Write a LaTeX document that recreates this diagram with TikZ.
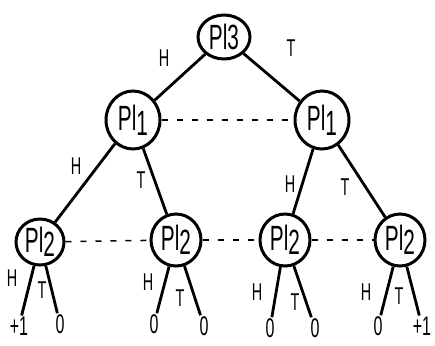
\documentclass[tikz,border=0pt]{standalone}
\usepackage{fontspec}
\setmainfont{Liberation Sans}
\usetikzlibrary{shapes.geometric}
\newcommand{\plname}[2]{\scalebox{0.8}[1.35]{Pl\raisebox{#2}{#1}}}
\newcommand{\tallt}[1]{\scalebox{0.8}[1.35]{#1}}
\begin{document}
\begin{tikzpicture}[x=1pt,y=-1pt,
  pl/.style={draw,ellipse,line width=3pt,inner sep=0pt,font=\fontsize{26}{30}\selectfont},
  leaf/.style={inner sep=1pt,font=\fontsize{20}{24}\selectfont},
  edge/.style={line width=2.8pt},
  lab/.style={font=\fontsize{18}{24}\selectfont},
  info/.style={line width=1.5pt,dash pattern=on 6pt off 9pt}]
\useasboundingbox (0,0) rectangle (435,345);
\node[pl,minimum width=52,minimum height=44] (r) at (224,37) {\plname{3}{0pt}};
\node[pl,minimum width=54,minimum height=58] (a) at (133,120) {\plname{1}{-4pt}};
\node[pl,minimum width=54,minimum height=58] (b) at (322,120) {\plname{1}{-4pt}};
\node[pl,minimum width=48,minimum height=46] (c1) at (40,242) {\plname{2}{-3pt}};
\node[pl,minimum width=50,minimum height=52] (c2) at (176,240) {\plname{2}{-3pt}};
\node[pl,minimum width=50,minimum height=52] (c3) at (285,240) {\plname{2}{-3pt}};
\node[pl,minimum width=50,minimum height=52] (c4) at (400,240) {\plname{2}{-3pt}};
\node[leaf] (l1) at (19,326) {\tallt{+1}};
\node[leaf] (l2) at (60,324) {\tallt{0}};
\node[leaf] (l3) at (154,324) {\tallt{0}};
\node[leaf] (l4) at (204,326) {\tallt{0}};
\node[leaf] (l5) at (270,328) {\tallt{0}};
\node[leaf] (l6) at (315,328) {\tallt{0}};
\node[leaf] (l7) at (378,326) {\tallt{0}};
\node[leaf] (l8) at (422,326) {\tallt{+1}};
\draw[edge] (r) -- (a);
\draw[edge] (r) -- (b);
\draw[edge] (a) -- (c1);
\draw[edge] (a) -- (c2);
\draw[edge] (b) -- (c3);
\draw[edge] (b) -- (c4);
\draw[edge] (c1) -- (l1);
\draw[edge] (c1) -- (l2);
\draw[edge] (c2) -- (l3);
\draw[edge] (c2) -- (l4);
\draw[edge] (c3) -- (l5);
\draw[edge] (c3) -- (l6);
\draw[edge] (c4) -- (l7);
\draw[edge] (c4) -- (l8);
\draw[info] (a) -- (b);
\draw[info] (c1) -- (c2);
\draw[info] (c2) -- (c3);
\draw[info] (c3) -- (c4);
\node[lab] (h0) at (164,58) {\tallt{H}};
\node[lab] (t0) at (291,48) {\tallt{T}};
\node[lab] (h1) at (76,166) {\tallt{H}};
\node[lab] (t1) at (141,180) {\tallt{T}};
\node[lab] (h2) at (290,184) {\tallt{H}};
\node[lab] (t2) at (345,187) {\tallt{T}};
\node[lab] (h3) at (12,278) {\tallt{H}};
\node[lab] (t3) at (42,290) {\tallt{T}};
\node[lab] (h4) at (148,282) {\tallt{H}};
\node[lab] (t4) at (180,298) {\tallt{T}};
\node[lab] (h5) at (257,292) {\tallt{H}};
\node[lab] (t5) at (295,302) {\tallt{T}};
\node[lab] (h6) at (366,292) {\tallt{H}};
\node[lab] (t6) at (399,296) {\tallt{T}};
\end{tikzpicture}
\end{document}
